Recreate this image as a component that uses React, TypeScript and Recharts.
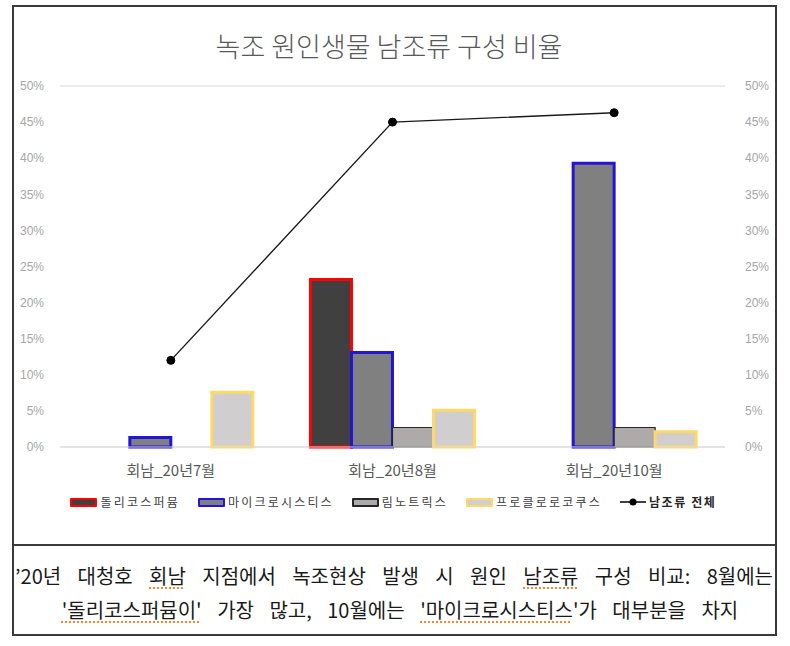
import React from 'react';
import { ComposedChart, Bar, Line, XAxis, YAxis, CartesianGrid, Legend } from 'recharts';

const categories = ['회남_20년7월', '회남_20년8월', '회남_20년10월'];
const dolichospermum = [0, 23.2, 0];
const microcystis = [1.3, 13.1, 39.3];
const limnothrix = [0, 2.7, 2.7];
const prochlorococcus = [7.6, 5.1, 2.1];
const totalCyano = [12.0, 45.0, 46.3];
const yTicks = [0, 5, 10, 15, 20, 25, 30, 35, 40, 45, 50];

const seriesNames = ['돌리코스퍼뮴', '마이크로시스티스', '림노트릭스', '프로클로로코쿠스', '남조류 전체'];

const data = categories.map((c, i) => ({
  name: c,
  d: dolichospermum[i],
  m: microcystis[i],
  l: limnothrix[i],
  p: prochlorococcus[i],
  t: totalCyano[i],
}));

const barStyles = [
  { key: 'd', fill: '#404040', stroke: '#ff0000', sw: 3 },
  { key: 'm', fill: '#808080', stroke: '#2414d6', sw: 3 },
  { key: 'l', fill: '#aeaaaa', stroke: '#262626', sw: 1.2 },
  { key: 'p', fill: '#d0cece', stroke: '#ffd966', sw: 3 },
];

const KR = '"Noto Sans CJK KR", "Noto Sans", sans-serif';

function LegendContent() {
  const textStyle: React.CSSProperties = {
    fontSize: 12,
    letterSpacing: 2.2,
    color: '#404040',
    fontFamily: KR,
    lineHeight: '16px',
    whiteSpace: 'nowrap',
  };
  return (
    <div style={{ height: 58, display: 'flex', justifyContent: 'center', alignItems: 'flex-start', paddingTop: 7, paddingLeft: 2, boxSizing: 'border-box' }}>
      {barStyles.map((b, i) => (
        <div key={b.key} style={{ display: 'flex', alignItems: 'center', marginRight: 18 }}>
          <div style={{ width: 27, height: 9, background: b.fill, border: `2px solid ${b.stroke}`, boxSizing: 'border-box', borderRadius: 1, marginRight: 3 }} />
          <span style={textStyle}>{seriesNames[i]}</span>
        </div>
      ))}
      <div style={{ display: 'flex', alignItems: 'center' }}>
        <svg width={26} height={10} style={{ marginRight: 3 }}>
          <line x1={0} y1={5} x2={26} y2={5} stroke="#000" strokeWidth={1.5} />
          <circle cx={13} cy={5} r={3.5} fill="#000" />
        </svg>
        <span style={{ ...textStyle, color: '#262626', fontWeight: 700, letterSpacing: 1.6 }}>{seriesNames[4]}</span>
      </div>
    </div>
  );
}

export default function App() {
  const tickStyle = { fill: '#a6a6a6', fontSize: 12, fontFamily: '"Liberation Sans", Arial, sans-serif' };
  const squiggle: React.CSSProperties = { textDecoration: 'underline dotted #f08a30', textUnderlineOffset: 3 };
  return (
    <div style={{ position: 'absolute', left: 0, top: 0, width: 790, height: 646, background: '#fff', overflow: 'hidden' }}>
      <div style={{ position: 'absolute', left: 0, top: 0 }}>
        <ComposedChart
          width={790}
          height={545}
          data={data}
          margin={{ top: 86, right: 15, left: 10, bottom: 0 }}
          barCategoryGap="13%"
          barGap={0}
        >
          <CartesianGrid vertical={false} stroke="#d9d9d9" strokeWidth={1.2} />
          <XAxis
            dataKey="name"
            height={40}
            tickLine={false}
            tickSize={0}
            tickMargin={18}
            axisLine={{ stroke: '#d9d9d9', strokeWidth: 1.2 }}
            tick={{ fill: '#595959', fontSize: 15, fontFamily: KR }}
          />
          <YAxis
            yAxisId="left"
            orientation="left"
            width={50}
            domain={[0, 50]}
            ticks={yTicks}
            tickFormatter={(v: number) => `${v}%`}
            axisLine={false}
            tickLine={false}
            tickMargin={10}
            tick={tickStyle}
          />
          <YAxis
            yAxisId="right"
            orientation="right"
            width={50}
            domain={[0, 50]}
            ticks={yTicks}
            tickFormatter={(v: number) => `${v}%`}
            axisLine={false}
            tickLine={false}
            tickMargin={14}
            tick={tickStyle}
          />
          {barStyles.map((b, i) => (
            <Bar
              key={b.key}
              yAxisId="left"
              dataKey={b.key}
              name={seriesNames[i]}
              fill={b.fill}
              stroke={b.stroke}
              strokeWidth={b.sw}
              isAnimationActive={false}
            />
          ))}
          <Line
            yAxisId="right"
            dataKey="t"
            name={seriesNames[4]}
            stroke="#1a1a1a"
            strokeWidth={1.4}
            dot={{ r: 4, fill: '#000', stroke: '#000', strokeWidth: 1 }}
            isAnimationActive={false}
          />
          <Legend verticalAlign="bottom" align="center" content={() => <LegendContent />} wrapperStyle={{ height: 58 }} />
        </ComposedChart>
      </div>

      <div style={{ position: 'absolute', left: -6, width: 790, top: 30, textAlign: 'center', fontFamily: KR, fontSize: 27, lineHeight: '32px', color: '#595959', fontWeight: 300, letterSpacing: 0 }}>
        녹조 원인생물 남조류 구성 비율
      </div>

      <div style={{ position: 'absolute', left: 12, top: 5, width: 765, height: 631, border: '2px solid #3a3a3a', boxSizing: 'border-box' }} />
      <div style={{ position: 'absolute', left: 12, top: 544, width: 765, height: 2, background: '#3a3a3a' }} />

      <div style={{ position: 'absolute', left: 15, width: 758, top: 562, height: 28, lineHeight: '28px', fontFamily: KR, fontSize: 20, color: '#1a1a1a', textAlign: 'justify', textAlignLast: 'justify' as any, whiteSpace: 'nowrap' }}>
        ’20년 대청호 <span style={squiggle}>회남</span> 지점에서 녹조현상 발생 시 원인 <span style={squiggle}>남조류</span> 구성 비교: 8월에는
      </div>
      <div style={{ position: 'absolute', left: 5, width: 790, top: 596, height: 28, lineHeight: '28px', fontFamily: KR, fontSize: 20, color: '#1a1a1a', textAlign: 'center', wordSpacing: 11, whiteSpace: 'nowrap' }}>
        <span style={squiggle}>'돌리코스퍼뮴이'</span> 가장 많고, 10월에는 <span style={squiggle}>'마이크로시스티스</span>'가 대부분을 차지
      </div>
    </div>
  );
}
